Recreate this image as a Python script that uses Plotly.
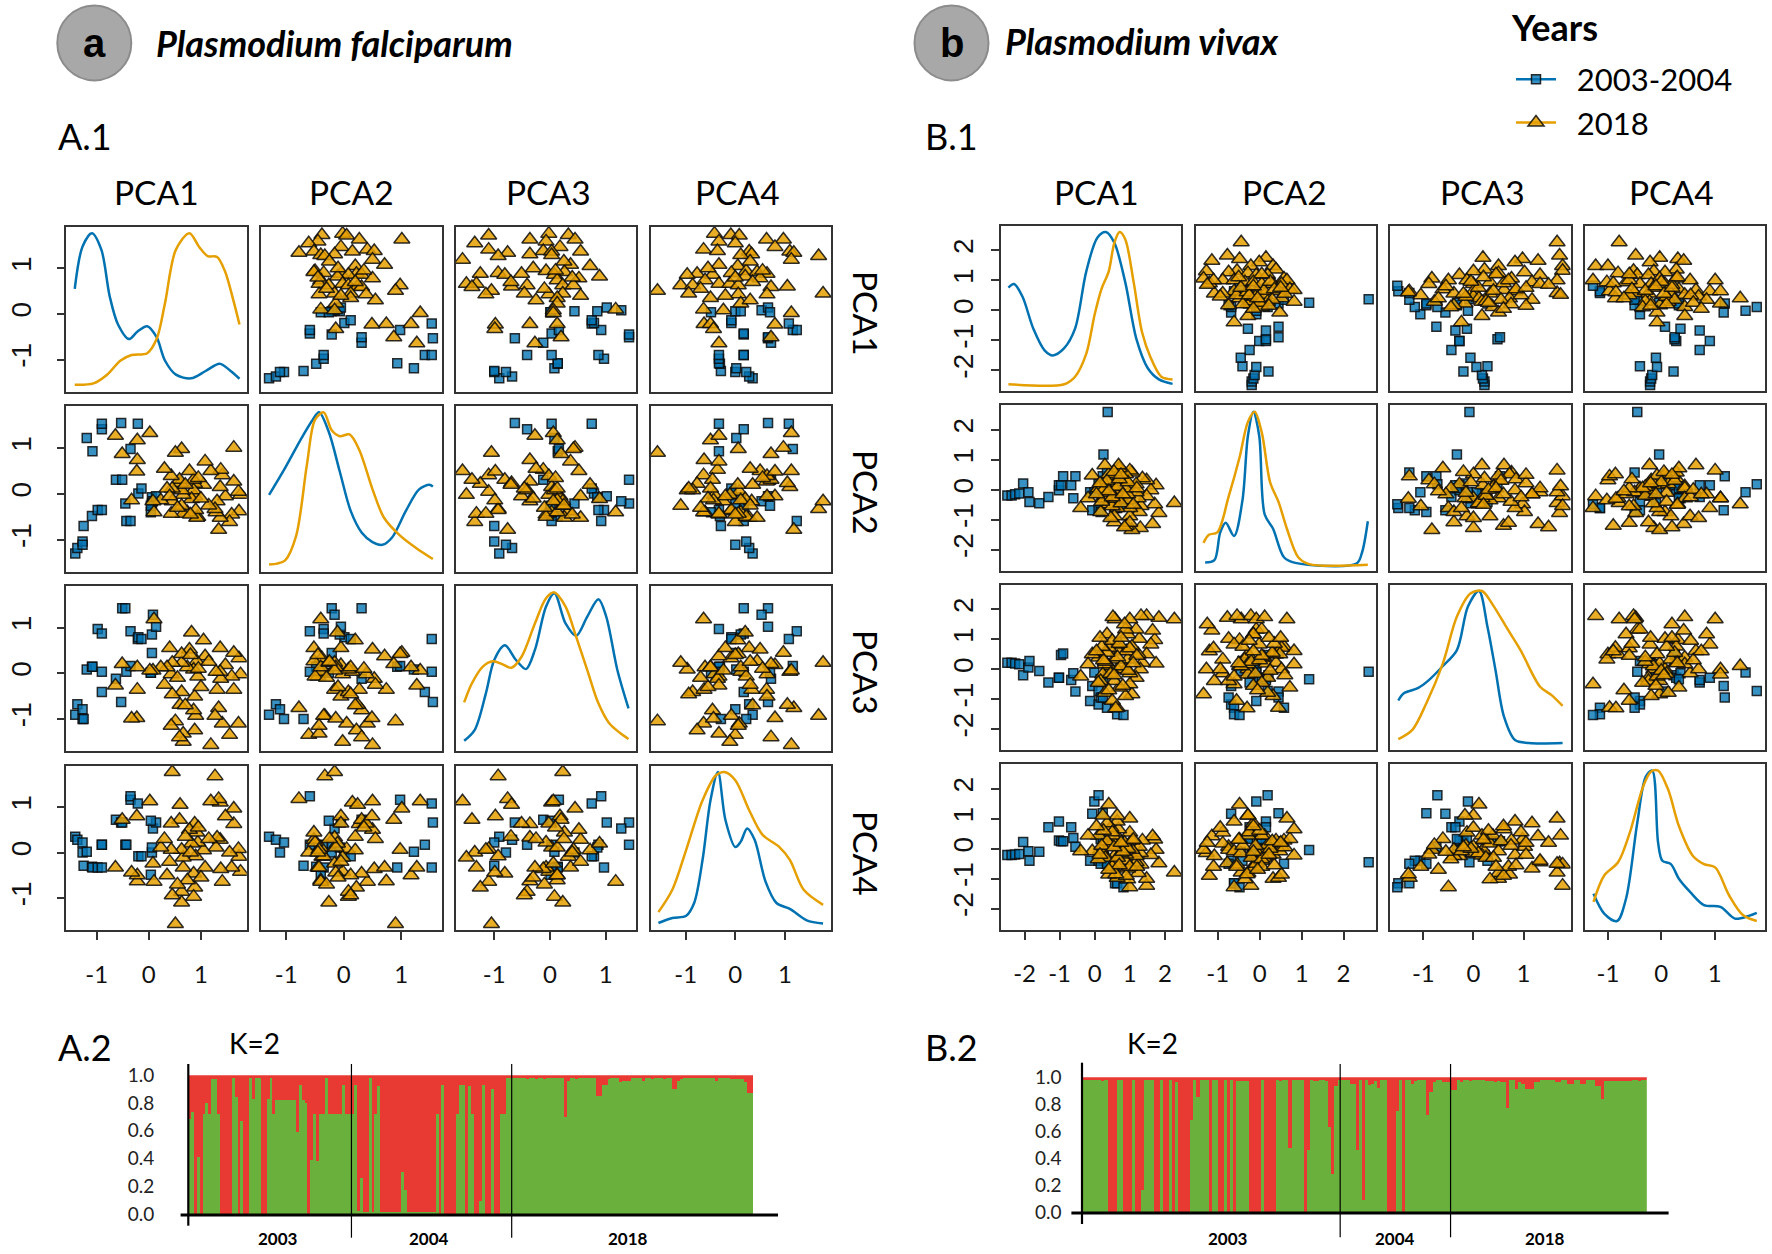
import plotly.graph_objects as go

W, H = 1772, 1254

pca_labels = ["PCA1", "PCA2", "PCA3", "PCA4"]
year_labels = ["2003", "2004", "2018"]
legend_labels = ["2003-2004", "2018"]

# ---- Plasmodium falciparum: samples (PCA1, PCA2, PCA3, PCA4) ----
a_blue_points = [
    (-1.41,-1.30,-.91,.35),(-1.37,-1.18,-.68,.28),(-1.27,-1.04,-1.00,.22),(-1.27,-1.11,-.79,0),
    (-1.25,-.70,-1.00,-.29),(-1.19,1.22,.08,.02),(-1.09,-.48,.14,-.31),(-1.08,.93,.14,-.33),
    (-.98,-.35,.97,-.33),(-.90,1.41,-.41,.17),(-.90,1.53,.03,-.33),(-.90,-.35,.87,.17),
    (-.63,.31,-.12,.72),(-.53,1.55,-.63,.66),(-.51,.31,1.42,.66),(-.45,-.21,1.42,.17),
    (-.43,-.59,.03,.17),(-.35,.98,.16,1.16),(-.35,-.59,.92,1.24),(-.21,1.53,.75,1.08),
    (-.20,.01,.79,-.08),(-.14,.12,.75,-.08),(.04,-.40,.01,-.49),(.06,-.21,.44,0),
    (.06,-.07,.85,.11),(.08,-.16,1.28,.53),(.14,-.05,1.02,.66),(.04,-.26,.01,.70),
]
a_orange_points = [
    (1.76,-.02,-.02,-.42),(1.73,-.38,.33,-.09),(1.72,.05,-1.10,.08),(1.63,.27,-.36,.63),
    (1.63,1.01,.45,.97),(1.59,-.45,-.07,-.33),(1.55,-.61,-1.35,0),(1.47,-.05,.18,.80),
    (1.41,.41,-1.10,-.64),(1.38,.53,-.12,-.36),(1.37,-.52,.55,.28),(1.37,.15,.03,1.10),
    (1.34,-.78,-.76,1.18),(1.31,-.16,-.36,.33),(1.29,-.40,.03,.11),(1.27,-.33,-.93,1.68),
    (1.19,.50,-1.57,1.13),(1.08,.71,.37,-.33),(1.05,.20,.72,.05),(.94,-.50,-.07,.22),
    (.92,-.52,.26,.44),(.90,-.35,-.93,-.08),(.88,-.05,-.51,.64),(.88,.22,-1.25,-.77),
    (.86,.08,.08,-.97),(.86,.31,-.81,-.46),(.82,-.11,.89,.20),(.78,.50,.52,.50),
    (.74,-.40,.13,-.61),(.66,-.43,-1.32,-.33),(.66,-.02,-1.50,-.11),(.63,-.26,.23,-1.10),
    (.63,.08,-.41,-.86),(.63,.98,.42,.06),(.60,.24,-.69,1.05),(.59,.31,-1.40,.72),
    (.51,.90,-1.05,-1.57),(.45,-.16,.23,1.77),(.45,.12,-.46,-.94),(.43,-.43,-1.15,.06),
    (.43,.39,-.02,.64),(.35,.12,.13,-.50),(.23,-.14,.13,.11),(.10,-.40,1.18,-.64),
    (.08,-.16,.06,-.24),(.02,1.33,.06,1.13),(-.22,.74,-.36,-.63),(-.22,1.17,.13,-.50),
    (-.23,.49,-.98,.80),(-.33,-.14,-.99,-.44),(-.51,.87,.20,.72),(-.64,1.27,-.27,-.33),
    (1.15,-.25,.25,.30),(1.00,-.10,-.30,-.55),(.80,-.45,.40,.00),(.70,.20,-.70,.35),
    (.55,-.30,-.10,-.70),(.95,.35,.10,.55),(.40,-.05,.55,-.20),(.30,.55,-.25,.30),
]

# ---- Plasmodium vivax: samples (PCA1, PCA2, PCA3, PCA4) ----
b_blue_points = [
    (-2.49,-.19,.22,-.21),(-2.37,-.19,.22,-.21),(-2.27,-.15,.19,-.19),(-2.15,-.12,.17,-.17),
    (-2.04,.21,-.20,.23),(-1.89,-.08,.06,-.08),(-1.86,-.41,.28,-.40),(-1.58,-.45,-.06,-.10),
    (-1.32,-.24,-.44,.72),(-1.02,-.01,-.28,.28),(-1.02,.15,-.28,.91),(-.96,.15,.48,.25),
    (-.90,.45,.53,.25),(-.67,.15,-.36,.72),(-.61,-.28,-.13,.36),(-.55,.45,-.74,.07),
    (-.13,-.08,-1.06,-.40),(-.07,-.68,-.56,1.17),(-.01,-.08,-.11,1.58),(.11,-.68,-1.17,-.40),
    (.11,.19,-.72,1.79),(.17,-.74,-.94,-.50),(.17,.05,-.33,.33),(.23,-.28,.28,.33),
    (.23,.45,-.94,1.19),(.25,1.18,-.33,-.04),(.37,2.60,-.08,-.45),(.35,.58,-1.28,-.50),
    (.58,-.61,-1.28,-1.15),(.64,-.61,-1.50,-1.15),(.82,-.48,-1.52,-1.28),
]
b_orange_points = [
    (2.27,-.44,1.67,-.79),(1.83,-.77,1.72,-.48),(1.75,.15,.19,-.03),(1.71,-.48,.98,.31),
    (1.65,-1.14,1.29,.42),(1.60,-.01,.83,-.21),(1.48,-.21,1.78,-1.23),(1.48,.32,.50,-1.00),
    (1.36,.39,.22,.28),(1.32,-.54,1.78,-.52),(1.30,-1.27,0,-.14),(1.27,-.74,1.02,.07),
    (1.24,-.28,.50,-.81),(1.18,-.08,1.33,-.45),(1.18,.19,-.28,-.24),(1.06,-1.34,-.83,-.03),
    (1.06,.58,.76,.28),(1.00,-.88,-.13,.54),(1.00,.65,1.67,1.01),(1.00,-.61,-.50,-1.28),
    (.94,-.35,.33,-1.02),(.94,-.15,1.17,-.66),(.88,.05,1.33,-.40),(.88,.32,-.89,-.19),
    (.88,.52,0,.07),(.70,.72,-.61,.33),(.68,.82,.61,.65),(.64,-.61,.83,.91),
    (.64,-.28,0,1.11),(.64,.45,-1.28,-.97),(.58,-.08,1.67,-.50),(.56,-1.08,-.39,-.24),
    (.56,-.88,.33,.18),(.52,.12,1.74,.44),(.46,-.94,0,.70),(.40,-.48,.11,1.48),
    (.40,.52,.72,-.86),(.35,-.15,1.17,.85),(.29,.19,-.78,.13),(.29,.82,.17,-.22),
    (.23,-.28,-.17,1.11),(.17,-.74,-.39,-.03),(.11,.05,.39,.44),(-.07,.48,.50,-.08),
    (-.19,-.28,.17,.44),(-.40,-.61,-.24,-.08),
    (.90,-1.20,.60,-.90),(1.00,-1.10,.70,-.60),(.85,-1.25,1.50,.20),(.50,-.55,-1.05,-.60),
    (.60,-.30,-1.30,-.85),(.75,-.45,.10,-.15),(.30,-.20,.25,-.30),(.45,-.10,-.15,.10),
    (.65,.10,.40,-.30),(.95,.25,-.05,.00),(.35,.30,.55,.25),(.20,-.40,.75,.10),
    (.10,.05,-.45,-.35),(.50,-.25,.95,.55),(.80,-.15,-.55,-.10),(.25,.00,.30,.60),
    (1.20,.05,.45,-.60),(1.10,-.50,.20,.30),(.70,.35,.85,-.55),(.40,-.05,-.70,-.70),
    (.15,.22,1.05,-.20),(.55,.60,-.20,.05),(.05,-.15,.60,.75),(.75,.50,1.05,.20),
]

# ---- Density curves on the diagonals (x, height on the row's axis) ----
a1_blue_x = [-1.42,-1.27,-1.09,-.91,-.75,-.59,-.38,-.22,-.03,.15,.31,.52,.81,1.09,1.36,1.57,1.74]
a1_blue_y = [.55,1.48,1.77,1.41,.39,-.23,-.55,-.39,-.27,-.51,-1.02,-1.33,-1.41,-1.25,-1.09,-1.25,-1.42]
a1_orange_x = [-1.42,-1.06,-.80,-.54,-.33,-.03,.15,.31,.52,.78,.96,1.13,1.31,1.46,1.62,1.74]
a1_orange_y = [-1.55,-1.52,-1.33,-1.02,-.90,-.86,-.55,.23,1.41,1.77,1.48,1.27,1.25,.94,.31,-.23]
a2_blue_x = [-1.30,-1.02,-.73,-.54,-.43,-.26,-.07,.12,.31,.50,.67,.84,1.08,1.31,1.49,1.55]
a2_blue_y = [-.02,.57,1.23,1.62,1.78,1.35,.49,-.37,-.84,-1.05,-1.11,-.95,-.37,.10,.20,.16]
a2_orange_x = [-1.30,-1.16,-1.02,-.83,-.64,-.50,-.35,-.21,-.07,.10,.27,.50,.70,.98,1.27,1.55]
a2_orange_y = [-1.54,-1.52,-1.45,-.92,.65,1.62,1.78,1.39,1.26,1.30,.96,.10,-.52,-.91,-1.19,-1.42]
a3_blue_x = [-1.54,-1.35,-1.15,-1.00,-.81,-.61,-.43,-.27,-.07,.08,.28,.47,.67,.87,1.01,1.21,1.41]
a3_blue_y = [-1.48,-1.24,-.44,.29,.61,.29,.09,.51,1.46,1.75,1.09,.82,1.24,1.62,1.24,.07,-.77]
a3_orange_x = [-1.54,-1.40,-1.20,-1.02,-.86,-.69,-.51,-.27,-.07,.08,.28,.47,.67,.87,1.06,1.26,1.41]
a3_orange_y = [-.64,-.22,.15,.26,.20,.12,.36,1.09,1.64,1.77,1.46,.80,.07,-.66,-1.09,-1.31,-1.44]
a4_blue_x = [-1.55,-1.27,-.99,-.83,-.66,-.50,-.35,-.20,0,.11,.24,.39,.61,.83,1.10,1.44,1.77]
a4_blue_y = [-1.55,-1.44,-1.39,-1.11,-.16,1.15,1.77,.72,.12,.24,.53,.28,-.64,-1.11,-1.24,-1.49,-1.56]
a4_orange_x = [-1.55,-1.27,-.99,-.66,-.39,-.22,0,.28,.55,.88,1.10,1.38,1.77]
a4_orange_y = [-1.31,-.82,.06,1.15,1.70,1.77,1.59,.93,.39,.13,-.16,-.82,-1.15]

b1_blue_x = [-2.46,-2.30,-2.06,-1.75,-1.43,-1.19,-.87,-.56,-.24,.08,.32,.56,.87,1.19,1.51,1.83,2.22]
b1_blue_y = [.76,.88,.46,-.61,-1.33,-1.50,-1.26,-.61,1.30,2.43,2.61,2.25,.94,-.96,-1.92,-2.30,-2.45]
b1_orange_x = [-2.46,-.87,-.56,-.24,0,.19,.40,.56,.71,.87,1.11,1.35,1.59,1.90,2.22]
b1_orange_y = [-2.46,-2.46,-2.21,-1.44,-.13,.70,1.30,2.25,2.61,2.37,.94,-.73,-1.56,-2.21,-2.30]
b2_blue_x = [-1.30,-1.08,-.94,-.81,-.61,-.41,-.28,-.15,-.01,.12,.32,.58,.85,2.31,2.44,2.58]
b2_blue_y = [-2.43,-2.35,-1.42,-1.10,-1.54,-.35,1.80,2.61,1.80,-.82,-1.30,-2.25,-2.44,-2.46,-2.1,-1.05]
b2_orange_x = [-1.34,-1.21,-1.01,-.74,-.48,-.28,-.12,.05,.25,.45,.65,.92,1.18,2.58]
b2_orange_y = [-1.77,-1.50,-1.42,-.23,1.08,2.27,2.61,1.92,.25,-.40,-1.30,-2.25,-2.48,-2.50]
b3_blue_x = [-1.5,-1.39,-1.11,-.89,-.61,-.33,-.11,.11,.28,.44,.61,.83,1.11,1.78]
b3_blue_y = [-1.04,-.80,-.63,-.36,.11,.64,2.09,2.61,1.42,-.02,-1.58,-2.36,-2.46,-2.46]
b3_orange_x = [-1.5,-1.22,-.94,-.61,-.33,-.06,.17,.39,.67,.94,1.33,1.56,1.78]
b3_orange_y = [-2.33,-2.02,-1.13,.20,1.76,2.53,2.61,2.14,1.37,.64,-.58,-.86,-1.22]
b4_blue_x = [-1.27,-1.07,-.83,-.66,-.45,-.29,-.17,-.06,.02,.18,.33,.54,.80,1.11,1.38,1.64,1.79]
b4_blue_y = [-1.50,-2.16,-2.41,-1.66,.87,2.41,2.61,.21,-.40,-.51,-1.00,-1.44,-1.88,-1.94,-2.33,-2.24,-2.14]
b4_orange_x = [-1.27,-1.07,-.81,-.59,-.34,-.19,-.06,.13,.33,.59,.80,1.01,1.27,1.53,1.79]
b4_orange_y = [-1.77,-.89,-.45,.54,2.08,2.58,2.61,1.97,.76,-.23,-.51,-.62,-1.55,-2.21,-2.41]

# ---- Ancestry bars: share of the green cluster per sample ----
a_green_2003 = [.68,.73,0,.41,0,.72,.80,.72,.97,.97,.72,0,0,0,0,.98,.84,0,.67,0,0,.98,.83,.98,.98,0,0,.83,.98,.72,
                .82,.82,.82,.82,.82,.82,.82,.59,.93,.82,.80,0,.39,.72,.38,.72,.72,.98,.72,.72,.72,.72,.72,.93,.72,.72]
a_green_2004 = [.72,.93,.02,.26,.01,.01,.98,.01,.72,.92,.01,.01,.01,.01,.01,.01,.01,.30,.17,.01,.01,.01,.01,.01,.01,.01,.01,.01,.01,
                .72,0,.93,0,0,0,0,.72,.93,.93,0,.92,.72,0,0,.09,.93,0,0,.90,0,0,.72,.72,.98,.98]
a_green_2018 = [.98,.98,.98,.98,.98,.97,.98,.98,.97,.98,.98,.97,.98,.98,.98,.98,.98,.98,.70,.96,.98,.98,.97,.98,.98,.98,.98,.98,.98,
                .85,.85,.93,.93,.97,.98,.98,.98,.95,.96,.96,.96,.98,.98,.98,.98,.96,.98,.98,.97,.98,.98,.98,.97,.98,.98,.90,.90,.96,.97,
                .98,.98,.98,.98,.98,.98,.98,.98,.98,.98,.98,.96,.98,.98,.98,.98,.97,.97,.97,.97,.97,.95,.87,.87]

b_green_2003 = [.98,.98,.98,.98,.98,.98,.97,.98,0,0,0,.98,.98,0,0,0,.98,0,0,.16,.98,.98,.98,0,0,.98,0,0,.98,0,.96,0,0,0,0,
                .68,.98,.85,.98,.98,.98,0,.98,.98,0,0,.98,0,.98,0,.97,.97,.97,.97,0,0,0,0,.98,0,0,0,0,.98,.97,.98,.98,.47,
                .98,.98,.98,.98,0,.46,.98,.97,.97,.98,.98,.97,.63,.28,.93,.98]
b_green_2004 = [.98,.98,.98,.95,.95,.46,.98,.09,.98,.94,.95,.97,.92,.98,.98,0,0,0,.75,.98,0,.98,.98,.95,.97,.98,.98,.98,.72,.89,.96,.98,.98,.96,.96,.96]
b_green_2018 = [.90,.90,.98,.96,.98,.98,.97,.98,.98,.98,.98,.97,.97,.97,.96,.97,.96,.96,.77,.98,.98,.91,.96,.95,.91,.91,.91,.96,.96,.98,
                .98,.98,.98,.98,.96,.96,.98,.98,.95,.95,.98,.98,.95,.95,.98,.98,.98,.93,.93,.84,.97,.97,.97,.97,.97,.97,.97,.97,.97,.98,.98,.97,.98,.98]

# ---- layout constants (pixels) ----
A_COLS = [(66.4, 246.8), (261, 441.5), (455.8, 636.3), (650.5, 831)]
A_ROWS = [(226.8, 392), (406.4, 572.3), (586, 751.3), (765.7, 930.3)]
A_XR = [(-1.58, 1.88), (-1.44, 1.70), (-1.69, 1.55), (-1.71, 1.93)]
A_YR = (-1.71, 1.91)
A_XT = [[-1, 0, 1]] * 4
A_YT = [-1, 0, 1]
B_COLS = [(1000.7, 1181), (1195.5, 1375.8), (1390.3, 1570.6), (1585, 1765.3)]
B_ROWS = [(225.7, 391.4), (405.4, 570.7), (584.7, 750.3), (764.3, 929.7)]
B_XR = [(-2.68, 2.46), (-1.53, 2.77), (-1.66, 1.94), (-1.43, 1.95)]
B_YR = (-2.70, 2.82)
B_XT = [[-2, -1, 0, 1, 2], [-1, 0, 1, 2], [-1, 0, 1], [-1, 0, 1]]
B_YT = [-2, -1, 0, 1, 2]

BLUE = "#0072B2"
ORANGE = "#E69F00"
BLUE_FILL = "rgba(0,114,178,0.78)"
ORANGE_FILL = "rgba(230,159,0,0.85)"
EDGE = "rgba(10,10,10,0.85)"
RED_BAR = "#E83A33"
GREEN_BAR = "#69B13C"
TXT = "Lato, 'Open Sans', sans-serif"
FRAME = "#333333"


def fx(x):
    return x / W


def fy(y):
    return 1 - y / H


fig = go.Figure()
layout_axes = {}
annotations = []
shapes = []
axis_n = 0


def next_axes():
    global axis_n
    axis_n += 1
    return axis_n


def add_text(text, x, y, size, bold=False, italic=False, anchor="center", angle=0, font=TXT, color="#000000"):
    t = text
    if bold:
        t = "<b>" + t + "</b>"
    if italic:
        t = "<i>" + t + "</i>"
    annotations.append(dict(text=t, x=fx(x), y=fy(y), xref="paper", yref="paper", showarrow=False,
                            xanchor=anchor, yanchor="middle", textangle=angle,
                            font=dict(size=size, family=font, color=color)))


def draw_matrix(cols, rows, xr, yr, xticks, yticks, blue, orange, curves, ystand, xstand):
    for r in range(4):
        for c in range(4):
            n = next_axes()
            sx = "" if n == 1 else str(n)
            layout_axes["xaxis" + sx] = dict(
                domain=[fx(cols[c][0]), fx(cols[c][1])], range=list(xr[c]), anchor="y" + sx,
                automargin=False,
                showgrid=False, zeroline=False, showline=True, mirror=True, linecolor=FRAME, linewidth=1.6,
                tickmode="array", tickvals=xticks[c] if r == 3 else [],
                ticktext=[str(v) for v in xticks[c]] if r == 3 else [],
                ticks="outside" if r == 3 else "", ticklen=8, tickwidth=1.6, tickcolor=FRAME,
                ticklabelstandoff=xstand,
                tickfont=dict(family=TXT, size=24, color="#111111"))
            layout_axes["yaxis" + sx] = dict(
                domain=[fy(rows[r][1]), fy(rows[r][0])], range=list(yr), anchor="x" + sx,
                automargin=False,
                showgrid=False, zeroline=False, showline=True, mirror=True, linecolor=FRAME, linewidth=1.6,
                tickmode="array", tickvals=yticks if c == 0 else [],
                ticktext=[str(v) for v in yticks] if c == 0 else [],
                ticks="outside" if c == 0 else "", ticklen=8, tickwidth=1.6, tickcolor=FRAME,
                tickangle=-90, ticklabelstandoff=ystand,
                tickfont=dict(family="Liberation Sans, Arial, sans-serif", size=28, color="#111111"))
            ax = dict(xaxis="x" + sx, yaxis="y" + sx, showlegend=False, hoverinfo="skip")
            if r == c:
                bx, by, ox, oy = curves[r]
                fig.add_trace(go.Scatter(x=bx, y=by, mode="lines", line=dict(color=BLUE, width=2.5, shape="spline", smoothing=0.9), **ax))
                fig.add_trace(go.Scatter(x=ox, y=oy, mode="lines", line=dict(color=ORANGE, width=2.5, shape="spline", smoothing=0.9), **ax))
            else:
                fig.add_trace(go.Scatter(
                    x=[p[c] for p in blue], y=[p[r] for p in blue], mode="markers",
                    marker=dict(symbol="square", size=9, color=BLUE_FILL, line=dict(color=EDGE, width=1.5)), **ax))
                fig.add_trace(go.Scatter(
                    x=[p[c] for p in orange], y=[p[r] for p in orange], mode="markers",
                    marker=dict(symbol="triangle-up", size=14, color=ORANGE_FILL, line=dict(color=EDGE, width=1.5)), **ax))


draw_matrix(A_COLS, A_ROWS, A_XR, A_YR, A_XT, A_YT, a_blue_points, a_orange_points,
            [(a1_blue_x, a1_blue_y, a1_orange_x, a1_orange_y),
             (a2_blue_x, a2_blue_y, a2_orange_x, a2_orange_y),
             (a3_blue_x, a3_blue_y, a3_orange_x, a3_orange_y),
             (a4_blue_x, a4_blue_y, a4_orange_x, a4_orange_y)], 14, 14)
draw_matrix(B_COLS, B_ROWS, B_XR, B_YR, B_XT, B_YT, b_blue_points, b_orange_points,
            [(b1_blue_x, b1_blue_y, b1_orange_x, b1_orange_y),
             (b2_blue_x, b2_blue_y, b2_orange_x, b2_orange_y),
             (b3_blue_x, b3_blue_y, b3_orange_x, b3_orange_y),
             (b4_blue_x, b4_blue_y, b4_orange_x, b4_orange_y)], 7, 14)


def draw_bars(groups, x0, x1, y0, y1, stand, base, vert, divider_top, divider_bottom):
    n = next_axes()
    sx = str(n)
    green = [v for g in groups for v in g]
    idx = list(range(len(green)))
    layout_axes["xaxis" + sx] = dict(domain=[fx(x0), fx(x1)], range=[-0.5, len(green) - 0.5], anchor="y" + sx,
                                     automargin=False,
                                     showgrid=False, zeroline=False, showticklabels=False, ticks="")
    layout_axes["yaxis" + sx] = dict(domain=[fy(y0), fy(y1)], range=[0, 1], anchor="x" + sx,
                                     automargin=False,
                                     showgrid=False, zeroline=False, ticks="", tickmode="array",
                                     tickvals=[0, .2, .4, .6, .8, 1], ticktext=["0.0", "0.2", "0.4", "0.6", "0.8", "1.0"],
                                     ticklabelstandoff=stand, tickfont=dict(family=TXT, size=19, color="#222222"))
    ax = dict(xaxis="x" + sx, yaxis="y" + sx, showlegend=False, hoverinfo="skip")
    fig.add_trace(go.Bar(x=idx, y=green, marker=dict(color=GREEN_BAR, line=dict(width=0)), **ax))
    fig.add_trace(go.Bar(x=idx, y=[1 - v for v in green], marker=dict(color=RED_BAR, line=dict(width=0)), **ax))
    # baseline and left rule
    shapes.append(dict(type="line", xref="paper", yref="paper", x0=fx(base[0]), x1=fx(base[1]),
                       y0=fy(base[2]), y1=fy(base[2]), line=dict(color="#000000", width=3)))
    shapes.append(dict(type="line", xref="paper", yref="paper", x0=fx(vert[0]), x1=fx(vert[0]),
                       y0=fy(vert[1]), y1=fy(vert[2]), line=dict(color="#000000", width=2.2)))
    # dividers between the sampling years
    pos = -0.5
    for g in groups[:-1]:
        pos += len(g)
        shapes.append(dict(type="line", xref="x" + sx, yref="paper", x0=pos, x1=pos,
                           y0=fy(divider_top), y1=fy(divider_bottom), line=dict(color="#000000", width=1.2)))


draw_bars([a_green_2003, a_green_2004, a_green_2018], 188.3, 753.5, 1214, 1075.3, 33,
          (180.6, 778, 1215), (188.3, 1064, 1225.7), 1064, 1237.7)
draw_bars([b_green_2003, b_green_2004, b_green_2018], 1082.6, 1646.8, 1212, 1077.3, 20,
          (1071.4, 1668.6, 1213), (1082, 1062.7, 1224), 1064, 1237.3)

# legend entries
LEGEND_PAD = "\u00a0\u00a0"
fig.add_trace(go.Scatter(x=[None], y=[None], xaxis="x", yaxis="y", mode="lines+markers", name=LEGEND_PAD + legend_labels[0],
                         line=dict(color=BLUE, width=2.5),
                         marker=dict(symbol="square", size=9, color=BLUE_FILL, line=dict(color=EDGE, width=1.5))))
fig.add_trace(go.Scatter(x=[None], y=[None], xaxis="x", yaxis="y", mode="lines+markers", name=LEGEND_PAD + legend_labels[1],
                         line=dict(color=ORANGE, width=2.5),
                         marker=dict(symbol="triangle-up", size=14, color=ORANGE_FILL, line=dict(color=EDGE, width=1.5))))

# circles and headings
for cx, cy, letter in [(94.3, 42.9, "a"), (951.5, 42.9, "b")]:
    shapes.append(dict(type="circle", xref="paper", yref="paper", x0=fx(cx - 37), x1=fx(cx + 37),
                       y0=fy(cy + 37.5), y1=fy(cy - 37.5), fillcolor="#A8A8A8", line=dict(color="#8C8C8C", width=2)))
    add_text(letter, cx, cy, 40, bold=True, font="Liberation Sans, Arial, sans-serif")
add_text("Plasmodium falciparum", 154, 43, 36, bold=True, italic=True, anchor="left")
add_text("Plasmodium vivax", 1003, 41, 36, bold=True, italic=True, anchor="left")
add_text("Years", 1509, 27, 36, bold=True, anchor="left")
add_text("A.1", 56, 136, 36, anchor="left")
add_text("B.1", 923, 136, 36, anchor="left")
add_text("A.2", 56, 1047, 36, anchor="left")
add_text("B.2", 923, 1047, 36, anchor="left")
add_text("K=2", 254, 1043, 28)
add_text("K=2", 1152, 1043, 28)

for x, lab in zip([156, 351, 548.5, 737.8], pca_labels):
    add_text(lab, x, 192, 33.5)
for x, lab in zip([1096, 1284, 1482.6, 1671.8], pca_labels):
    add_text(lab, x, 192, 33.5)
for y, lab in zip([313, 492, 672, 853], pca_labels):
    add_text(lab, 866, y, 33.5, angle=90)
for x, lab in zip([277.5, 428.8, 628], year_labels):
    add_text(lab, x, 1238.7, 17, bold=True)
for x, lab in zip([1228, 1395, 1545], year_labels):
    add_text(lab, x, 1238.7, 17, bold=True)

fig.update_layout(
    template="none",
    width=W, height=H, autosize=False,
    margin=dict(l=0, r=0, t=0, b=0, pad=0),
    paper_bgcolor="white", plot_bgcolor="white",
    barmode="stack", bargap=0,
    annotations=annotations, shapes=shapes,
    font=dict(family=TXT),
    legend=dict(x=1511 / W, y=1 - 52.5 / H, xanchor="left", yanchor="top", traceorder="normal",
                bgcolor="rgba(0,0,0,0)", itemwidth=40,
                font=dict(size=31, family=TXT, color="#000000")),
    showlegend=True,
    **layout_axes,
)

fig.write_html("out.html", config={"displayModeBar": False}, post_script="document.body.style.margin='0';")
